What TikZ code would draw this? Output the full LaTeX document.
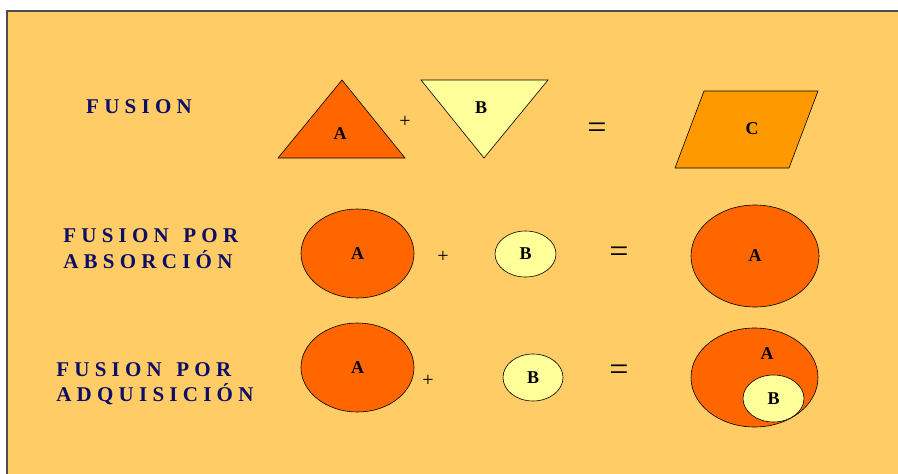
\documentclass[tikz,border=0pt]{standalone}
\usepackage{fontspec}
\setmainfont{Liberation Serif}
\usetikzlibrary{shapes.geometric}
\definecolor{fondo}{HTML}{FFCC66}
\definecolor{naranja}{HTML}{FF6600}
\definecolor{amarillo}{HTML}{FFFF99}
\definecolor{ambar}{HTML}{FF9900}
\definecolor{marino}{HTML}{0D0D66}

\begin{document}
\begin{tikzpicture}[x=1pt,y=-1pt,line width=0.6pt,
  t/.style={font=\fontsize{21}{25.5}\selectfont\bfseries,text=marino,align=left,inner sep=0pt},
  e/.style={ellipse,draw,inner sep=0pt,font=\fontsize{18}{18}\selectfont\bfseries},
  l/.style={font=\fontsize{18}{18}\selectfont\bfseries,inner sep=0pt},
  mas/.style={font=\fontsize{20}{20}\selectfont,inner sep=0pt},
  igual/.style={font=\fontsize{34}{34}\selectfont,inner sep=0pt}]
\useasboundingbox (0,0) rectangle (898,474);
\fill[fondo] (7,11) rectangle (898,474);
\draw[black!70,line width=1.5pt] (7,474) -- (7,11) -- (898,11);

% fusion
\node[t] (t1) at (139,107) {F U S I O N};
\draw[fill=naranja] (278,158) -- (342,80) -- (405,158) -- cycle;
\node[l] (a1) at (340,134) {A};
\node[mas] (m1) at (405,122) {+};
\draw[fill=amarillo] (421,80) -- (548,80) -- (484,158) -- cycle;
\node[l] (b1) at (481,108) {B};
\node[igual] (i1) at (597,131) {=};
\draw[fill=ambar] (704,91) -- (818,91) -- (789,168) -- (675,168) -- cycle;
\node[l] (c1) at (752,129) {C};

% absorcion
\node[t,anchor=west] (t2) at (63,248.5) {F U S I O N\ \ \hspace{4pt}P O R\\A B S O R C I Ó N};
\node[e,fill=naranja,minimum width=113pt,minimum height=89pt] (a2) at (357.5,253.5) {A};
\node[mas] (m2) at (443,257) {+};
\node[e,fill=amarillo,minimum width=61pt,minimum height=46pt] (b2) at (525.5,254) {B};
\node[igual] (i2) at (619,255) {=};
\node[e,fill=naranja,minimum width=128pt,minimum height=102pt] (r2) at (755,256) {A};

% adquisicion
\node[t,anchor=west] (t3) at (56,383.5) {F U S I O N\ \ \hspace{4pt}P O R\\A D Q U I S I C I Ó N};
\node[e,fill=naranja,minimum width=113pt,minimum height=89pt] (a3) at (357.5,367.5) {A};
\node[mas] (m3) at (428,381) {+};
\node[e,fill=amarillo,minimum width=60pt,minimum height=47pt] (b3) at (533,377.5) {B};
\node[igual] (i3) at (619,373) {=};
\node[e,fill=naranja,minimum width=127pt,minimum height=99pt] (r3) at (754.5,377.5) {};
\node[l] (ra3) at (767,354) {A};
\node[e,fill=amarillo,minimum width=61pt,minimum height=47pt] (rb3) at (773.5,398.5) {B};
\end{tikzpicture}
\end{document}
